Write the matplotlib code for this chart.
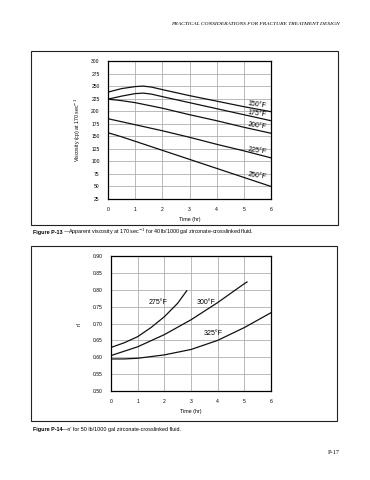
import matplotlib
matplotlib.use("Agg")
import matplotlib.pyplot as plt
from matplotlib.patches import Rectangle

plt.rcParams['font.family'] = ['Liberation Sans', 'DejaVu Sans']

# Figure P-13: apparent viscosity vs time
time_13 = [0, 0.5, 1, 1.3, 1.6, 2, 3, 4, 5, 6]
visc_150 = [238, 245, 249, 250, 248, 243, 231, 220, 209, 199]
visc_175 = [224, 230, 235, 236, 234, 229, 217, 205, 193, 181]
time_13b = [0, 0.5, 1, 2, 3, 4, 5, 6]
visc_200 = [224, 221, 217, 206, 193, 181, 168, 156]
visc_225 = [185, 179, 173, 161, 148, 134, 121, 107]
visc_250 = [157, 149, 140, 122, 104, 86, 68, 50]
labels_13 = ['150°F', '175°F', '200°F', '225°F', '250°F']
label_y_13 = [213, 194, 170, 121, 72]

# Figure P-14: n' vs time
time_275 = [0, 0.5, 1, 1.5, 2, 2.5, 2.84]
n_275 = [0.629, 0.643, 0.661, 0.688, 0.720, 0.760, 0.797]
time_300 = [0, 1, 2, 3, 4, 5, 5.1]
n_300 = [0.605, 0.631, 0.667, 0.711, 0.762, 0.818, 0.823]
time_325 = [0, 0.5, 1, 2, 3, 4, 5, 6]
n_325 = [0.595, 0.595, 0.597, 0.607, 0.623, 0.650, 0.688, 0.732]
labels_14 = ['275°F', '300°F', '325°F']
label_pos_14 = [(1.78, 0.761), (3.55, 0.761), (3.84, 0.670)]

W, H = 370, 480
fig = plt.figure(figsize=(3.7, 4.8), dpi=100)


def fx(px):
    return px / W


def fy(py):
    return 1 - py / H


# page header
fig.text(fx(340), fy(24), 'PRACTICAL CONSIDERATIONS FOR FRACTURE TREATMENT DESIGN',
         ha='right', va='center', family='Liberation Serif', style='italic', fontsize=3.95)

# frames around the two figures
for (x0, y0, x1, y1) in [(31, 51, 338, 225), (31, 246, 337, 421)]:
    fig.patches.append(Rectangle((fx(x0), fy(y1)), fx(x1) - fx(x0), fy(y0) - fy(y1),
                                 transform=fig.transFigure, fill=False,
                                 edgecolor='#222222', linewidth=0.8))


def style_axes(ax):
    ax.grid(True, color='#b0b0b0', linewidth=0.6)
    ax.set_axisbelow(True)
    ax.tick_params(length=0, labelsize=3.6, pad=6)
    for s in ax.spines.values():
        s.set_linewidth(0.9)
    ax.set_xlabel('Time (hr)', fontsize=3.8, labelpad=3)


def caption(ax, y, head, body):
    t = fig.text(fx(33), fy(y), head, fontsize=3.9, weight='bold', va='center')
    ax.annotate(body, xy=(1, 0.5), xycoords=t, va='center', ha='left',
                fontsize=3.9, annotation_clip=False)


# ---- top chart
ax1 = fig.add_axes([fx(108), fy(199), fx(271) - fx(108), fy(61) - fy(199)])
for t, v in [(time_13, visc_150), (time_13, visc_175), (time_13b, visc_200),
             (time_13b, visc_225), (time_13b, visc_250)]:
    ax1.plot(t, v, color='#111111', linewidth=0.9)
for lab, ly in zip(labels_13, label_y_13):
    ax1.text(5.5, ly, lab, ha='center', va='center', fontsize=5, rotation=-8)
ax1.set_xlim(0, 6)
ax1.set_ylim(25, 300)
ax1.set_xticks(range(0, 7))
ax1.set_yticks(range(25, 301, 25))
ax1.set_ylabel('Viscosity (cp) at 170 sec$^{-1}$', fontsize=3.8, labelpad=6)
style_axes(ax1)

caption(ax1, 232, 'Figure P-13',
        '\u2014Apparent viscosity at 170 sec$^{-1}$ for 40 lb/1000 gal zirconate-crosslinked fluid.')

# ---- bottom chart
ax2 = fig.add_axes([fx(111), fy(391), fx(271) - fx(111), fy(256) - fy(391)])
for t, v in [(time_275, n_275), (time_300, n_300), (time_325, n_325)]:
    ax2.plot(t, v, color='#111111', linewidth=0.9)
for lab, (lx, ly) in zip(labels_14, label_pos_14):
    ax2.text(lx, ly, lab, ha='center', va='center', fontsize=5)
ax2.set_xlim(0, 6)
ax2.set_ylim(0.50, 0.90)
ax2.set_xticks(range(0, 7))
ax2.set_yticks([0.50, 0.55, 0.60, 0.65, 0.70, 0.75, 0.80, 0.85, 0.90])
ax2.set_yticklabels(['%.2f' % v for v in ax2.get_yticks()])
ax2.set_ylabel("n'", fontsize=3.8, rotation=90, labelpad=8)
style_axes(ax2)

caption(ax2, 429, 'Figure P-14', "\u2014n' for 50 lb/1000 gal zirconate-crosslinked fluid.")

fig.text(fx(340), fy(452), 'P-17', ha='right', va='center',
         family='Liberation Serif', fontsize=4.5)

fig.savefig('out.png', dpi=100)
